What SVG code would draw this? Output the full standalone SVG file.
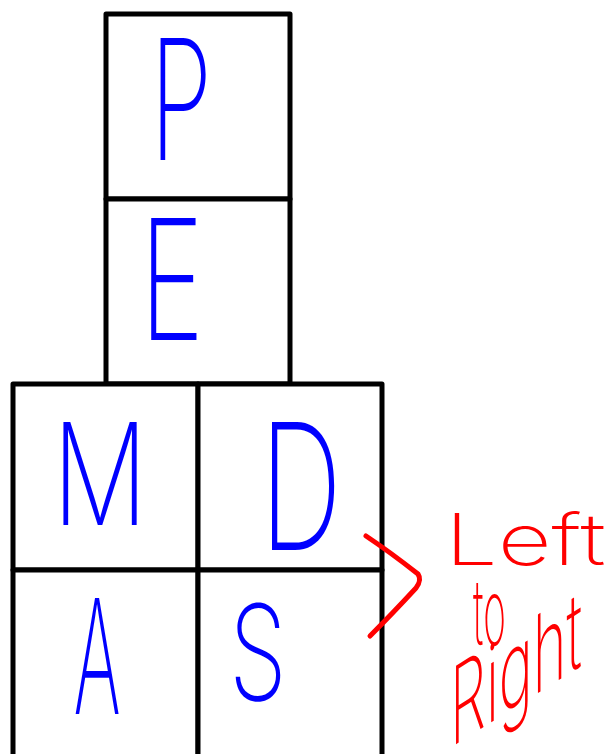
<svg xmlns="http://www.w3.org/2000/svg" width="614" height="754" viewBox="0 0 614 754">
<style>
.box{fill:#fff;stroke:#000;stroke-width:5;stroke-linejoin:round}
.lt{font-family:Inter,"Liberation Sans",sans-serif;font-weight:200;fill:#0000ff;text-anchor:middle}
.rd{font-family:Inter,"Liberation Sans",sans-serif;font-weight:250;fill:#ff0000}
.br{fill:none;stroke:#ff0000;stroke-width:5;stroke-linecap:round;stroke-linejoin:round}
</style>
<rect width="614" height="754" fill="#fff"/>
<g id="node-P">
<rect class="box" x="106" y="14" width="184" height="185"/>
<text class="lt" font-size="168" transform="translate(181,160) scale(0.6,1)">P</text>
</g>
<g id="node-E">
<rect class="box" x="106" y="199" width="184" height="185"/>
<text class="lt" font-size="168" transform="translate(172,340) scale(0.65,1)">E</text>
</g>
<g id="node-M">
<rect class="box" x="13" y="384" width="185" height="186"/>
<text class="lt" font-size="142" transform="translate(100,525) scale(0.75,1)">M</text>
</g>
<g id="node-D">
<rect class="box" x="198" y="384" width="184" height="186"/>
<text class="lt" font-size="176" transform="translate(301,550) scale(0.65,1)">D</text>
</g>
<g id="node-A">
<rect class="box" x="13" y="570" width="185" height="190"/>
<text class="lt" font-size="160" transform="translate(97,714) scale(0.45,1)">A</text>
</g>
<g id="node-S">
<rect class="box" x="198" y="570" width="184" height="190"/>
<text class="lt" font-size="132" transform="translate(258,700) scale(0.7,1)">S</text>
</g>
<g id="connectors">
<path class="br" d="M366,536 Q390,552 418,574 Q422,580 416,588 Q392,614 370,636"/>
</g>
<g id="label">
<text class="rd" font-size="72" transform="translate(445,565) scale(1.3,1)">Left</text>
<text class="rd" font-size="92" transform="translate(473,645) scale(0.42,1)">to</text>
<text class="rd" font-size="108" textLength="132" lengthAdjust="spacingAndGlyphs" transform="translate(450,748) skewY(-32)">Right</text>
</g>
</svg>
